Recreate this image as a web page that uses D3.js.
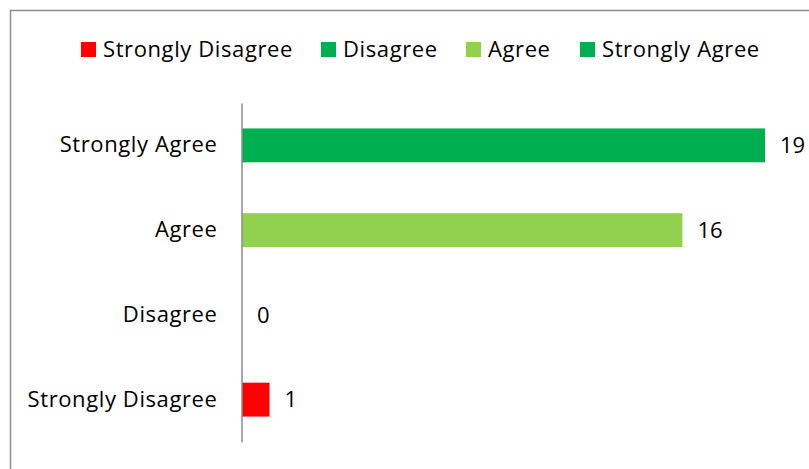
<!DOCTYPE html>
<html>
<head>
<meta charset="utf-8">
<script src="https://cdn.jsdelivr.net/npm/d3@7"></script>
<style>
  body { margin: 0; background: #fff; }
  text { font-family: "Open Sans", "Noto Sans", sans-serif; fill: #000; }
</style>
</head>
<body>
<div id="chart"></div>
<script>
// categories from top to bottom, as drawn
const categories = ["Strongly Agree", "Agree", "Disagree", "Strongly Disagree"];
const values = [19, 16, 0, 1];
const barColors = ["#00B050", "#92D050", "#00B050", "#FF0000"];

// legend order and colours (as in the original, Disagree shares the dark green)
const legendNames = ["Strongly Disagree", "Disagree", "Agree", "Strongly Agree"];
const legendColors = ["#FF0000", "#00B050", "#92D050", "#00B050"];
const legendX = [81, 321, 466, 580];

const width = 809, height = 469;
const fontSize = "22px", spacing = "0.6px";

const svg = d3.select("#chart")
    .append("svg")
    .attr("width", width)
    .attr("height", height);

// chart frame
svg.append("rect")
    .attr("x", 10.5)
    .attr("y", 10.5)
    .attr("width", 840)
    .attr("height", 500)
    .attr("fill", "none")
    .attr("stroke", "#8c8c8c")
    .attr("stroke-width", 1.5);

const x = d3.scaleLinear()
    .domain([0, 19])
    .range([242, 765]);

const y = d3.scaleBand()
    .domain(categories)
    .range([103, 442])
    .paddingInner(0.6)
    .paddingOuter(0.3);

// bars
svg.selectAll("rect.bar")
    .data(categories)
    .enter()
    .append("rect")
    .attr("class", "bar")
    .attr("x", x(0))
    .attr("y", d => y(d))
    .attr("width", (d, i) => x(values[i]) - x(0))
    .attr("height", y.bandwidth())
    .attr("fill", (d, i) => barColors[i]);

// value labels
svg.selectAll("text.value")
    .data(categories)
    .enter()
    .append("text")
    .attr("class", "value")
    .attr("x", (d, i) => x(values[i]) + 15)
    .attr("y", d => y(d) + y.bandwidth() / 2)
    .attr("dy", "0.35em")
    .style("font-size", fontSize)
    .text((d, i) => values[i]);

// category axis
const axis = svg.append("g")
    .attr("transform", `translate(${x(0) - 0.5},0)`)
    .call(d3.axisLeft(y).tickSize(0).tickPadding(24));
axis.select(".domain")
    .attr("stroke", "#8c8c8c")
    .attr("stroke-width", 1.5);
axis.selectAll("text")
    .style("font-size", fontSize)
    .style("letter-spacing", spacing)
    .style("font-family", "\"Open Sans\", \"Noto Sans\", sans-serif")
    .attr("fill", "#000");

// legend
const legend = svg.selectAll("g.legend")
    .data(legendNames)
    .enter()
    .append("g")
    .attr("class", "legend")
    .attr("transform", (d, i) => `translate(${legendX[i]},42)`);

legend.append("rect")
    .attr("width", 15)
    .attr("height", 15)
    .attr("fill", (d, i) => legendColors[i]);

legend.append("text")
    .attr("x", 22)
    .attr("y", 7.5)
    .attr("dy", "0.35em")
    .style("font-size", fontSize)
    .style("letter-spacing", spacing)
    .text(d => d);
</script>
</body>
</html>
